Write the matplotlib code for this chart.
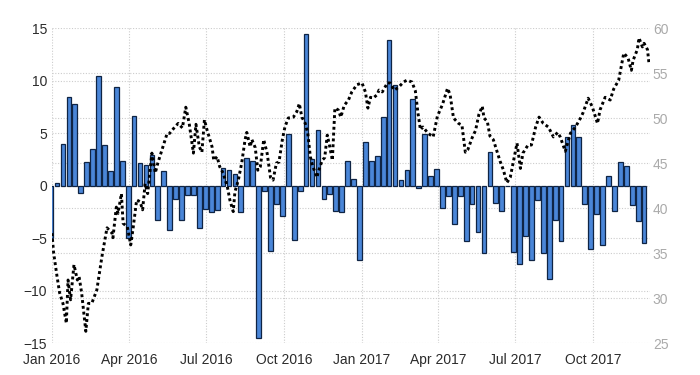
import numpy as np
import pandas as pd
import matplotlib
matplotlib.use("Agg")
import matplotlib.pyplot as plt
from matplotlib.ticker import FixedLocator

plt.rcParams["font.family"] = ["Liberation Sans", "DejaVu Sans"]

# ── data ────────────────────────────────────────────────────────────────
# weekly change (left axis), first bar dated 2015-12-31
bar_first = "2015-12-31"
bar_vals = [
    -5.0, 0.2, 4.0, 8.4, 7.8, -0.7, 2.2, 3.5, 10.4, 3.9,
    1.4, 9.4, 2.3, -5.0, 6.6, 2.1, 2.0, 2.9, -3.3, 1.4,
    -4.2, -1.3, -3.3, -0.9, -0.9, -4.0, -2.2, -2.5, -2.3, 1.7,
    1.5, 1.1, -2.5, 2.6, 2.3, -14.5, -0.5, -6.2, -1.8, -2.9,
    4.9, -5.2, -0.5, 14.4, 2.5, 5.3, -1.3, -0.8, -2.4, -2.5,
    2.3, 0.6, -7.1, 4.1, 2.3, 2.8, 6.5, 13.9, 9.6, 0.5,
    1.5, 8.2, -0.2, 4.9, 0.9, 1.6, -2.1, -1.0, -3.7, -1.0,
    -5.3, -1.8, -4.4, -6.4, 3.2, -1.7, -2.4, 0.0, -6.3, -7.5,
    -4.8, -7.1, -1.4, -6.4, -8.9, -3.3, -5.3, 4.6, 5.8, 4.6,
    -1.8, -6.0, -2.7, -5.7, 0.9, -2.4, 2.2, 1.9, -1.9, -3.4,
    -5.5,
]

# price line (right axis): days since line_base, value
line_base = "2016-01-01"
line_day = [
    0, 2, 6, 9, 13, 17, 19, 22, 26, 30, 32, 35, 40, 43, 47, 53, 59, 65, 71, 72,
    76, 78, 82, 84, 89, 93, 96, 100, 104, 107, 110, 113, 118, 122, 125, 131, 136, 139, 145, 149,
    154, 158, 162, 167, 170, 174, 177, 180, 183, 189, 191, 195, 198, 202, 207, 210, 214, 216, 220, 224,
    228, 230, 234, 236, 240, 243, 246, 250, 254, 258, 261, 265, 268, 272, 275, 279, 285, 289, 292, 295,
    299, 302, 305, 308, 313, 314, 319, 322, 325, 328, 331, 334, 338, 341, 345, 350, 354, 360, 366, 370,
    373, 376, 379, 384, 386, 390, 396, 399, 404, 409, 415, 419, 425, 429, 432, 435, 438, 444, 450, 455,
    461, 467, 470, 474, 480, 484, 488, 491, 496, 500, 504, 508, 510, 514, 517, 521, 526, 529, 533, 537,
    541, 545, 549, 553, 556, 562, 566, 571, 575, 580, 586, 592, 597, 600, 606, 612, 618, 624, 627, 633,
    638, 644, 647, 653, 659, 663, 669, 675, 680, 684, 686, 691, 693, 697, 699, 703, 705,
]
line_val = [
    37.2, 35.0, 32.4, 30.6, 29.4, 27.2, 32.0, 29.8, 33.7, 32.0, 32.4, 30.6, 26.3, 29.4, 29.4, 30.9, 34.6, 37.8, 37.2, 36.7,
    40.1, 39.4, 41.6, 38.3, 37.9, 35.9, 37.9, 40.9, 40.7, 39.8, 42.7, 41.6, 46.1, 43.9, 45.0, 46.8, 48.3, 48.3, 49.0, 49.4,
    48.9, 51.2, 49.4, 46.1, 49.3, 46.8, 46.2, 49.8, 48.7, 46.8, 45.3, 45.7, 44.6, 43.9, 42.4, 40.9, 39.6, 41.8, 43.1, 45.0,
    47.6, 48.4, 46.8, 47.6, 46.7, 44.2, 44.6, 47.6, 46.1, 43.4, 43.1, 45.0, 45.1, 47.6, 49.0, 50.0, 50.1, 50.7, 51.6, 50.1,
    49.4, 48.3, 45.7, 44.6, 43.4, 43.9, 45.3, 45.6, 48.1, 46.8, 45.3, 51.1, 50.9, 50.1, 51.4, 52.0, 52.9, 53.7, 53.9, 52.9,
    51.1, 52.3, 52.2, 52.6, 53.1, 52.9, 53.9, 53.9, 53.1, 53.4, 54.0, 54.2, 54.0, 53.0, 50.6, 48.7, 49.0, 48.3, 47.9, 50.2,
    51.5, 53.3, 52.6, 50.0, 49.4, 49.2, 46.2, 46.5, 47.8, 48.6, 50.4, 51.3, 50.0, 49.6, 48.0, 47.6, 46.1, 45.2, 44.2, 42.8,
    43.4, 45.3, 47.2, 44.4, 46.1, 47.0, 47.0, 49.0, 50.1, 49.4, 49.0, 47.9, 48.4, 47.9, 46.3, 48.3, 49.0, 50.0, 50.6, 52.2,
    51.2, 49.4, 50.9, 52.3, 52.0, 53.2, 54.2, 57.2, 56.7, 55.3, 56.4, 57.6, 58.9, 57.9, 58.3, 57.6, 55.9,
]

left_ticks = [-15, -10, -5, 0, 5, 10, 15]
right_ticks = [25, 30, 35, 40, 45, 50, 55, 60]
x_ticks = ["2016-01-01", "2016-04-01", "2016-07-01", "2016-10-01",
           "2017-01-01", "2017-04-01", "2017-07-01", "2017-10-01"]
x_labels = ["Jan 2016", "Apr 2016", "Jul 2016", "Oct 2016",
            "Jan 2017", "Apr 2017", "Jul 2017", "Oct 2017"]

# ── plot ────────────────────────────────────────────────────────────────
fig = plt.figure(figsize=(7, 3.75), dpi=100)
ax = fig.add_axes([0.0736, 0.0853, 0.855, 0.84])

bar_dates = pd.date_range(bar_first, periods=len(bar_vals), freq="7D")
ax.bar(bar_dates, bar_vals, width=5.6, color="#4a86d8",
       edgecolor="#0f2444", linewidth=0.9, zorder=2)

ax2 = ax.twinx()
line_dates = pd.Timestamp(line_base) + pd.to_timedelta(line_day, unit="D")
ax2.plot(line_dates, line_val, color="black", lw=2.1, ls=(0, (1, 1)))

ax.set_xlim(pd.Timestamp("2015-12-31 12:00"), pd.Timestamp("2017-12-07"))
ax.set_ylim(-15, 15)
ax2.set_ylim(25, 60)

ax.set_yticks(left_ticks)
ax2.set_yticks(right_ticks)
# right-axis gridlines drawn on the left axes so they stay under the bars
ax.yaxis.set_minor_locator(FixedLocator([(v - 25) / 35 * 30 - 15 for v in right_ticks]))
ax.set_xticks(pd.to_datetime(x_ticks))
ax.set_xticklabels(x_labels)

grid_kw = dict(color="#cccccc", ls=(0, (1, 1.5)), lw=0.8)
ax.grid(which="both", axis="y", **grid_kw)
ax.grid(which="major", axis="x", **grid_kw)
ax.set_axisbelow(True)

for a in (ax, ax2):
    for s in a.spines.values():
        s.set_visible(False)

ax.tick_params(axis="y", which="both", length=0, pad=3, labelsize=10, labelcolor="#2b2b2b")
ax.tick_params(axis="x", length=0, pad=7, labelsize=10, labelcolor="#2b2b2b")
ax2.tick_params(axis="y", length=0, pad=2, labelsize=10, labelcolor="#aaaaaa")

fig.savefig("out.png", dpi=100)
